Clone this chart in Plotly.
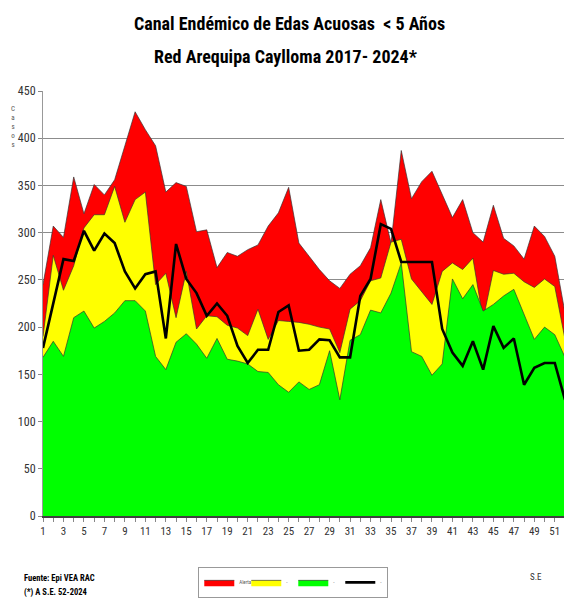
import plotly.graph_objects as go

weeks = list(range(1, 53))

alerta = [245, 307, 295, 359, 320, 351, 340, 356, 392, 428, 409, 392, 343, 353, 349, 301, 303, 263,
          279, 275, 282, 287, 307, 321, 348, 289, 275, 261, 249, 241, 256, 265, 284, 335,
          289, 387, 336, 354, 365, 341, 316, 335, 300, 290, 329, 294, 286, 272, 307, 296, 275, 215]
seguridad = [190, 276, 239, 265, 305, 319, 319, 349, 311, 335, 343, 245, 257, 210, 259, 198, 212, 211,
             202, 199, 191, 219, 187, 207, 206, 205, 203, 200, 198, 173, 219, 228, 249, 252,
             290, 293, 251, 238, 224, 259, 268, 261, 273, 208, 260, 256, 257, 248, 242, 251, 243, 187]
exito = [168, 185, 169, 210, 217, 199, 206, 215, 228, 228, 217, 169, 155, 184, 193, 182, 167, 188,
         166, 164, 161, 153, 152, 139, 131, 142, 134, 139, 175, 123, 186, 192, 218, 215,
         236, 268, 174, 169, 149, 161, 251, 230, 245, 217, 224, 233, 240, 213, 187, 200, 192, 168]
casos_2024 = [178, 226, 272, 270, 302, 281, 299, 289, 259, 241, 256, 259, 188, 288, 251, 236, 212, 225,
              212, 180, 162, 176, 176, 216, 223, 175, 176, 187, 186, 168, 168, 233, 251, 309,
              304, 269, 269, 269, 269, 198, 173, 159, 185, 155, 201, 178, 188, 139, 157, 162, 162, 123]

x_ticks = list(range(1, 52, 2))

NARROW = "Roboto Condensed, Liberation Sans Narrow, Arial Narrow, sans-serif"
edge = "rgba(50,50,50,0.85)"

fig = go.Figure()
fig.add_trace(go.Scatter(x=weeks, y=alerta, name="Alerta", mode="lines", fill="tozeroy",
                         fillcolor="#FF0000", line=dict(color=edge, width=0.8)))
fig.add_trace(go.Scatter(x=weeks, y=seguridad, name="-", mode="lines", fill="tozeroy",
                         fillcolor="#FFFF00", line=dict(color=edge, width=0.8)))
fig.add_trace(go.Scatter(x=weeks, y=exito, name="-", mode="lines", fill="tozeroy",
                         fillcolor="#00FF00", line=dict(color=edge, width=0.8)))
fig.add_trace(go.Scatter(x=weeks, y=casos_2024, name="-", mode="lines",
                         line=dict(color="#000000", width=2.6)))

fig.update_layout(
    width=564, height=601,
    margin=dict(l=43, r=0, t=91, b=85, autoexpand=False),
    paper_bgcolor="white", plot_bgcolor="white",
    font=dict(family=NARROW, color="#333333"),
    showlegend=True,
    legend=dict(orientation="h", xref="container", yref="container",
                x=0.520, xanchor="center", y=0.031, yanchor="middle",
                bordercolor="#999999", borderwidth=1, font=dict(size=5, color="#555555"),
                itemwidth=30, entrywidth=2, entrywidthmode="pixels",
                bgcolor="white"),
    xaxis=dict(range=[1, 51.9], tickmode="array", tickvals=x_ticks,
               ticktext=[str(v) for v in x_ticks], automargin=False,
               ticks="outside", ticklen=4, tickcolor="#888888",
               minor=dict(tickmode="linear", tick0=1, dtick=1, ticks="outside", ticklen=4,
                          tickcolor="#888888"),
               showgrid=False, zeroline=False, showline=True, linecolor="#404040", linewidth=1.5,
               tickfont=dict(size=11, color="#333333", family=NARROW)),
    yaxis=dict(range=[0, 450], dtick=50, tick0=0, ticks="outside", ticklen=4, tickcolor="#888888",
               automargin=False,
               showgrid=True, gridcolor="#8c8c8c", gridwidth=1, zeroline=False,
               showline=True, linecolor="#999999", linewidth=1,
               tickfont=dict(size=12, color="#333333", family=NARROW)),
)

annotations = [
    dict(text="<b>Canal Endémico de Edas Acuosas  < 5 Años</b>", x=0.473, y=1.16,
         font=dict(size=18, color="#000000", family=NARROW)),
    dict(text="<b>Red Arequipa Caylloma 2017- 2024*</b>", x=0.466, y=1.08,
         font=dict(size=18, color="#000000", family=NARROW)),
    dict(text="C<br>a<br>s<br>o<br>s", x=-0.058, y=0.915,
         font=dict(size=7, color="#555555", family=NARROW)),
    dict(text="<b>Fuente: Epi VEA RAC</b>", x=-0.0403, y=-0.146, xanchor="left",
         font=dict(size=8.5, color="#000000", family=NARROW)),
    dict(text="<b>(*) A S.E. 52-2024</b>", x=-0.0403, y=-0.181, xanchor="left",
         font=dict(size=8.5, color="#000000", family=NARROW)),
    dict(text="S.E", x=0.946, y=-0.1435,
         font=dict(size=9, color="#333333", family=NARROW)),
]
for a in annotations:
    a.setdefault("xanchor", "center")
    fig.add_annotation(xref="paper", yref="paper", showarrow=False, yanchor="middle", **a)

fig.write_html("out.html", config={"displayModeBar": False},
               post_script="document.body.style.margin='0px';")
